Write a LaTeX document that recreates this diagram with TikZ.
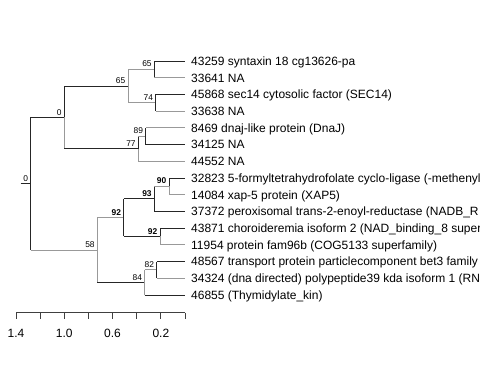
\documentclass[tikz,border=0pt]{standalone}
\usepackage{fontspec}
\setmainfont{Liberation Sans}
\newcommand{\brh}[4]{\draw[#2] (#3) -- (#3 |- #4); \draw[#1] (#3 |- #4) -- (#4);}
\begin{document}
\begin{tikzpicture}[x=1pt,y=-1pt,
  dk/.style={draw=black!85,line width=1pt},
  lt/.style={draw=black!40,line width=1pt},
  leaf/.style={anchor=base west,inner sep=0pt,font=\fontsize{12}{14}\selectfont},
  bs/.style={anchor=base east,inner sep=0pt,font=\fontsize{8.4}{10}\selectfont},
  bsb/.style={anchor=base east,inner sep=0pt,font=\fontsize{8.4}{10}\selectfont\bfseries},
  axl/.style={anchor=base,inner sep=0pt,font=\fontsize{12}{14}\selectfont}]
\useasboundingbox (0,0) rectangle (480,384);
\clip (0,0) rectangle (480,384);
% leaves
\coordinate (L1) at (185,61);
\coordinate (L2) at (185,77.7);
\coordinate (L3) at (185,94.4);
\coordinate (L4) at (185,111.1);
\coordinate (L5) at (185,127.8);
\coordinate (L6) at (185,144.6);
\coordinate (L7) at (185,161.3);
\coordinate (L8) at (185,178);
\coordinate (L9) at (185,194.7);
\coordinate (L10) at (185,211.4);
\coordinate (L11) at (185,228.1);
\coordinate (L12) at (185,244.8);
\coordinate (L13) at (185,261.5);
\coordinate (L14) at (185,278.2);
\coordinate (L15) at (185,295);
% internal nodes
\coordinate (n65) at (154.3,69.35);
\coordinate (n74) at (155.7,102.75);
\coordinate (B) at (128,86.05);
\coordinate (n89) at (145.7,136.2);
\coordinate (C) at (138.3,148.75);
\coordinate (A) at (64.3,117.4);
\coordinate (n90) at (169,186.35);
\coordinate (F) at (154.3,198.9);
\coordinate (G) at (160,236.45);
\coordinate (E) at (123.7,217.7);
\coordinate (n82) at (156.7,269.85);
\coordinate (n84) at (144.7,282.4);
\coordinate (D) at (97.3,250.05);
\coordinate (R) at (30.7,183.7);
\coordinate (R0) at (20.7,183.7);
% edges: {horizontal colour}{vertical half colour}{parent}{child}
\draw[dk] (R0) -- (R);
\brh{dk}{dk}{R}{A}
\brh{lt}{dk}{R}{D}
\brh{dk}{dk}{A}{B}
\brh{dk}{lt}{A}{C}
\brh{lt}{lt}{B}{n65}
\brh{lt}{lt}{B}{n74}
\brh{dk}{dk}{n65}{L1}
\brh{lt}{dk}{n65}{L2}
\brh{dk}{dk}{n74}{L3}
\brh{lt}{dk}{n74}{L4}
\brh{lt}{dk}{C}{n89}
\brh{lt}{lt}{C}{L7}
\brh{lt}{dk}{n89}{L5}
\brh{dk}{dk}{n89}{L6}
\brh{lt}{lt}{D}{E}
\brh{dk}{lt}{D}{n84}
\brh{dk}{dk}{E}{F}
\brh{dk}{dk}{E}{G}
\brh{lt}{dk}{F}{n90}
\brh{dk}{dk}{F}{L10}
\brh{dk}{dk}{n90}{L8}
\brh{lt}{lt}{n90}{L9}
\brh{dk}{dk}{G}{L11}
\brh{lt}{lt}{G}{L12}
\brh{lt}{lt}{n84}{n82}
\brh{dk}{lt}{n84}{L15}
\brh{dk}{dk}{n82}{L13}
\brh{lt}{dk}{n82}{L14}
% support labels
\node[bs] (sR) at ([xshift=-2.5pt,yshift=2.4pt]R) {0};
\node[bs] (sA) at ([xshift=-2.5pt,yshift=2.4pt]A) {0};
\node[bs] (sB) at ([xshift=-2.5pt,yshift=2.4pt]B) {65};
\node[bs] (s65) at ([xshift=-2.5pt,yshift=2.4pt]n65) {65};
\node[bs] (s74) at ([xshift=-2.5pt,yshift=2.4pt]n74) {74};
\node[bs] (sC) at ([xshift=-2.5pt,yshift=2.4pt]C) {77};
\node[bs] (s89) at ([xshift=-2.5pt,yshift=2.4pt]n89) {89};
\node[bs] (sD) at ([xshift=-2.5pt,yshift=2.4pt]D) {58};
\node[bsb] (sE) at ([xshift=-2.5pt,yshift=2.4pt]E) {92};
\node[bsb] (sF) at ([xshift=-2.5pt,yshift=2.4pt]F) {93};
\node[bsb] (s90) at ([xshift=-2.5pt,yshift=2.4pt]n90) {90};
\node[bsb] (sG) at ([xshift=-2.5pt,yshift=2.4pt]G) {92};
\node[bs] (s84) at ([xshift=-2.5pt,yshift=2.4pt]n84) {84};
\node[bs] (s82) at ([xshift=-2.5pt,yshift=2.4pt]n82) {82};
% leaf labels
\node[leaf] (t1) at ([xshift=6pt,yshift=-4.3pt]L1) {43259 syntaxin 18 cg13626-pa};
\node[leaf] (t2) at ([xshift=6pt,yshift=-4.3pt]L2) {33641 NA};
\node[leaf] (t3) at ([xshift=6pt,yshift=-4.3pt]L3) {45868 sec14 cytosolic factor (SEC14)};
\node[leaf] (t4) at ([xshift=6pt,yshift=-4.3pt]L4) {33638 NA};
\node[leaf] (t5) at ([xshift=6pt,yshift=-4.3pt]L5) {8469 dnaj-like protein (DnaJ)};
\node[leaf] (t6) at ([xshift=6pt,yshift=-4.3pt]L6) {34125 NA};
\node[leaf] (t7) at ([xshift=6pt,yshift=-4.3pt]L7) {44552 NA};
\node[leaf] (t8) at ([xshift=6pt,yshift=-4.3pt]L8) {32823 5-formyltetrahydrofolate cyclo-ligase (-methenyl};
\node[leaf] (t9) at ([xshift=6pt,yshift=-4.3pt]L9) {14084 xap-5 protein (XAP5)};
\node[leaf] (t10) at ([xshift=6pt,yshift=-4.3pt]L10) {37372 peroxisomal trans-2-enoyl-reductase (NADB\_R};
\node[leaf] (t11) at ([xshift=6pt,yshift=-4.3pt]L11) {43871 choroideremia isoform 2 (NAD\_binding\_8 super};
\node[leaf] (t12) at ([xshift=6pt,yshift=-4.3pt]L12) {11954 protein fam96b (COG5133 superfamily)};
\node[leaf] (t13) at ([xshift=6pt,yshift=-4.3pt]L13) {48567 transport protein particlecomponent bet3 family};
\node[leaf] (t14) at ([xshift=6pt,yshift=-4.3pt]L14) {34324 (dna directed) polypeptide39 kda isoform 1 (RN};
\node[leaf] (t15) at ([xshift=6pt,yshift=-4.3pt]L15) {46855 (Thymidylate\_kin)};
% axis
\foreach \i in {0,...,7} {\coordinate (ax\i) at ({16+\i*24.143},312.5);}
\draw[dk,draw=black!75] (ax0) -- (ax7);
\foreach \i in {0,...,7} {\draw[dk,draw=black!75] (ax\i) -- ++(0,6);}
\node[axl] (a0) at ([yshift=-24.8pt]ax0) {1.4};
\node[axl] (a2) at ([yshift=-24.8pt]ax2) {1.0};
\node[axl] (a4) at ([yshift=-24.8pt]ax4) {0.6};
\node[axl] (a6) at ([yshift=-24.8pt]ax6) {0.2};
\end{tikzpicture}
\end{document}
